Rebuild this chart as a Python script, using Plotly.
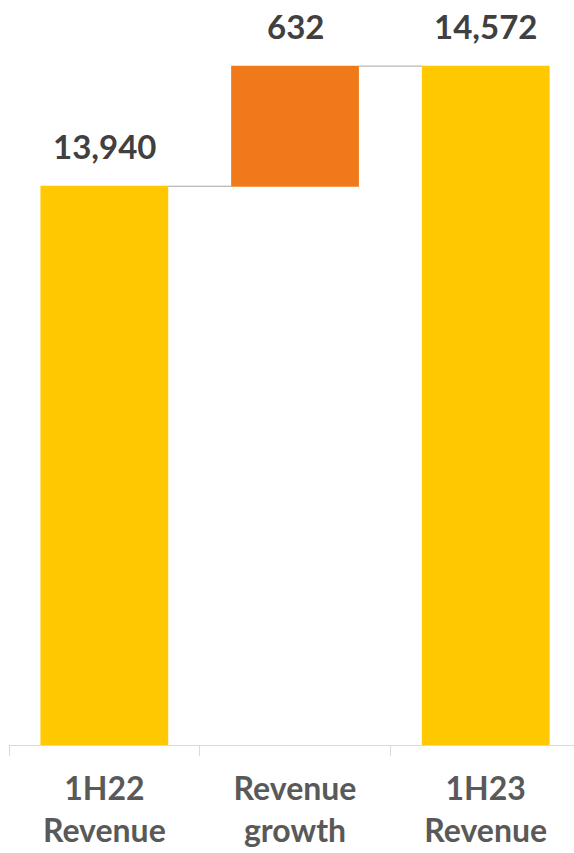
import plotly.graph_objects as go
import numpy as np

categories = ["1H22<br>Revenue", "Revenue<br>growth", "1H23<br>Revenue"]
measures = ["absolute", "relative", "total"]
values = [13940, 632, 14572]
labels = ["13,940", "632", "14,572"]

tops = list(np.cumsum(values[:2])) + [values[2]]

fig = go.Figure()
fig.add_trace(go.Waterfall(
    x=categories,
    y=[13940, 632, 0],
    measure=measures,
    increasing=dict(marker=dict(color="#F07A1A")),
    decreasing=dict(marker=dict(color="#F07A1A")),
    totals=dict(marker=dict(color="#FFC800")),
    connector=dict(line=dict(color="#A6A6A6", width=1), mode="between"),
    textposition="none",
    hoverinfo="skip",
))

for c, t, lab in zip(categories, tops, labels):
    fig.add_annotation(x=c, y=t, text=lab, showarrow=False, yshift=40,
                       font=dict(family="Lato", size=33, color="#404040", weight="bold"))

fig.update_layout(
    width=574, height=853,
    margin=dict(l=9, r=0, t=0, b=108),
    plot_bgcolor="white", paper_bgcolor="white",
    waterfallgap=0.33,
    showlegend=False,
    font=dict(family="Lato"),
)
fig.update_xaxes(
    range=[-0.5, 2.463],
    automargin=False,
    showline=True, linecolor="#D9D9D9", linewidth=1,
    ticks="outside", tickson="boundaries", ticklen=10, tickcolor="#D9D9D9",
    ticklabelstandoff=16,
    tickfont=dict(family="Lato", size=32, color="#595959", weight="bold"),
    showgrid=False,
)
fig.update_yaxes(range=[11000, 14920], visible=False, showgrid=False)

fig.write_html("out.html")
